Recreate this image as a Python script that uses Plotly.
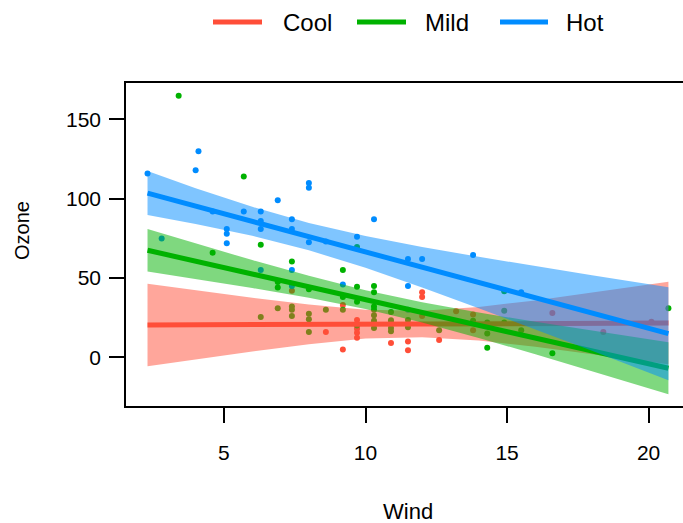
import plotly.graph_objects as go

# ---------------- data ----------------
groups = ["Cool", "Mild", "Hot"]

cool_wind = [7.4, 8.6, 9.2, 9.2, 9.7, 9.7, 9.7, 9.7, 10.9, 11.5, 11.5, 12.0, 12.0, 12.0,
             12.6, 13.2, 13.8, 13.8, 16.6, 18.4, 20.1]
cool_ozone = [42, 16, 33, 5, 23.5, 18, 15.5, 12.4, 9, 10, 4.4, 41, 38, 26,
              11, 29, 27, 17, 28, 16, 22.5]

mild_wind = [3.4, 4.6, 5.7, 6.3, 6.3, 6.9, 6.9, 6.9, 7.4, 7.4, 7.4, 7.4, 8.0, 8.0, 8.0, 8.0,
             8.6, 9.2, 9.2, 9.2, 9.7, 9.7, 9.7, 9.7, 10.3, 10.3, 10.3, 10.3, 10.3, 10.3, 10.3,
             10.3, 10.9, 10.9, 10.9, 10.9, 10.9, 11.5, 11.5, 11.5, 12.6, 13.8, 14.3, 14.3, 14.3,
             14.9, 14.9, 14.9, 15.5, 16.6, 20.7]
mild_ozone = [165, 66, 114, 71, 25.5, 47.5, 44, 31, 60.5, 32, 30, 26, 43, 27.5, 24, 16,
              30, 55, 38, 30, 69.5, 44.5, 35, 20, 45, 41, 32, 30, 26.5, 23, 21.5,
              18.5, 28.6, 23.3, 21.6, 18.5, 16.4, 23.5, 21, 19, 17, 23, 22, 15, 6,
              41.6, 29.4, 22, 17, 2.5, 31]

hot_wind = [2.3, 2.8, 4.0, 4.1, 4.6, 5.1, 5.1, 5.1, 5.7, 6.3, 6.3, 6.3, 6.3, 6.9, 7.4, 7.4,
            7.4, 7.4, 8.0, 8.0, 8.0, 8.6, 9.2, 9.7, 10.3, 11.5, 11.5, 11.5, 12.0, 13.8, 15.5]
hot_ozone = [116, 75, 118, 130, 92, 81, 78, 72, 92, 92, 86, 81, 55, 99, 87, 81,
             55, 45, 110, 107, 72.5, 73, 46, 76, 87, 62, 45, 30, 62, 64.5, 41]

# fitted lines and confidence bands, sampled along Wind
grid_wind = [2.3, 4, 6, 8, 10, 12, 14, 16, 18, 20.7]
cool_fit = [20.4, 20.5, 20.6, 20.8, 20.9, 21.0, 21.2, 21.3, 21.4, 21.6]
cool_upper = [46.4, 42.2, 37.5, 33.3, 30.0, 29.3, 31.8, 35.9, 40.7, 47.6]
cool_lower = [-5.6, -1.2, 3.7, 8.3, 11.8, 12.7, 10.6, 6.7, 2.1, -4.4]
mild_fit = [67.5, 60.6, 52.5, 44.5, 36.4, 28.3, 20.2, 12.2, 4.1, -6.9]
mild_upper = [80.9, 71.8, 61.3, 51.4, 42.3, 34.7, 28.2, 22.4, 16.8, 9.5]
mild_lower = [54.1, 49.4, 43.7, 37.6, 30.5, 21.9, 12.2, 2.0, -8.6, -23.3]
hot_fit = [103.6, 95.4, 85.8, 76.1, 66.5, 56.8, 47.2, 37.6, 27.9, 14.9]
hot_upper = [117.5, 106.7, 94.9, 84.7, 76.5, 69.6, 63.4, 57.5, 51.7, 44.2]
hot_lower = [89.7, 84.1, 76.7, 67.5, 56.5, 44.0, 31.0, 17.7, 4.1, -14.4]

x_ticks = [5, 10, 15, 20]
y_ticks = [0, 50, 100, 150]

# ---------------- styling ----------------
colors = {"Cool": "rgb(255,78,56)", "Mild": "rgb(0,178,0)", "Hot": "rgb(0,140,255)"}
fills = {"Cool": "rgba(255,78,56,0.5)", "Mild": "rgba(0,178,0,0.5)", "Hot": "rgba(0,140,255,0.5)"}
FONT = "Liberation Sans, Arial, Helvetica, sans-serif"

W, H = 683, 523
L, R, T, B = 126, 0, 83, 117
PW, PH = W - L - R, H - T - B

pts = {"Cool": (cool_wind, cool_ozone), "Mild": (mild_wind, mild_ozone), "Hot": (hot_wind, hot_ozone)}
fits = {"Cool": (cool_fit, cool_upper, cool_lower),
        "Mild": (mild_fit, mild_upper, mild_lower),
        "Hot": (hot_fit, hot_upper, hot_lower)}

fig = go.Figure()
for g in groups:
    xw, yo = pts[g]
    fig.add_trace(go.Scatter(x=xw, y=yo, mode="markers", name=g, showlegend=False,
                             marker=dict(color=colors[g], size=6, line=dict(width=0)),
                             hoverinfo="x+y"))
for g in groups:
    fit, up, lo = fits[g]
    fig.add_trace(go.Scatter(x=grid_wind + grid_wind[::-1], y=up + lo[::-1], mode="lines",
                             fill="toself", fillcolor=fills[g], line=dict(width=0),
                             showlegend=False, hoverinfo="skip"))
    fig.add_trace(go.Scatter(x=grid_wind, y=fit, mode="lines", name=g, showlegend=False,
                             line=dict(color=colors[g], width=5)))


def px(xp):
    return (xp - L) / PW


def py(yp):
    return (H - B - yp) / PH


# manual legend (long line keys like the reference)
legend_items = [("Cool", 213, 262, 281), ("Mild", 357, 406, 423), ("Hot", 500, 548, 564)]
shapes = []
annotations = []
for g, x0, x1, xt in legend_items:
    shapes.append(dict(type="line", xref="paper", yref="paper", x0=px(x0), x1=px(x1),
                       y0=py(22), y1=py(22), line=dict(color=colors[g], width=5)))
    annotations.append(dict(text=g, xref="paper", yref="paper", x=px(xt), y=py(22),
                            xanchor="left", yanchor="middle", showarrow=False,
                            font=dict(family=FONT, size=24, color="black")))

annotations.append(dict(text="Wind", xref="paper", yref="paper", x=px(407.5), y=py(511),
                        xanchor="center", yanchor="middle", showarrow=False,
                        font=dict(family=FONT, size=22, color="black")))
annotations.append(dict(text="Ozone", xref="paper", yref="paper", x=px(22), y=py(231),
                        xanchor="center", yanchor="middle", showarrow=False, textangle=-90,
                        font=dict(family=FONT, size=20, color="black")))

fig.update_layout(
    width=W, height=H,
    margin=dict(l=L, r=R, t=T, b=B, pad=0),
    paper_bgcolor="white", plot_bgcolor="white",
    showlegend=False,
    font=dict(family=FONT, size=21, color="black"),
    shapes=shapes, annotations=annotations,
    xaxis=dict(range=[1.54, 21.215], tickvals=x_ticks, ticktext=[str(v) for v in x_ticks],
               showgrid=False, zeroline=False, showline=True, mirror=True,
               linecolor="black", linewidth=1.5, ticks="outside", ticklen=15,
               tickwidth=1.5, tickcolor="black", ticklabelstandoff=12,
               tickfont=dict(family=FONT, size=21, color="black")),
    yaxis=dict(range=[-30.7, 173.0], tickvals=y_ticks, ticktext=[str(v) for v in y_ticks],
               showgrid=False, zeroline=False, showline=True, mirror=False,
               linecolor="black", linewidth=1.5, ticks="outside", ticklen=15,
               tickwidth=1.5, tickcolor="black", ticklabelstandoff=4,
               tickfont=dict(family=FONT, size=21, color="black")),
)

fig.write_html("out.html", config={"displayModeBar": False},
               post_script="document.body.style.margin='0px';document.body.style.overflow='hidden';")
